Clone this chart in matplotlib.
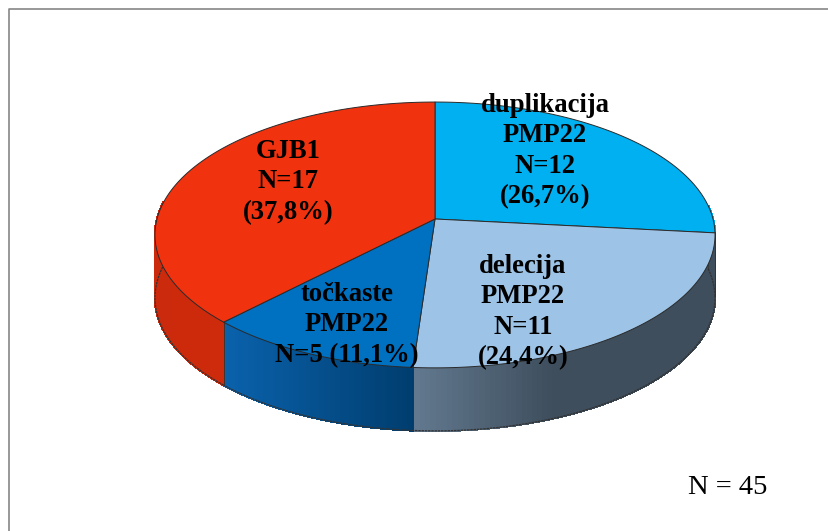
import numpy as np
import matplotlib
matplotlib.use("Agg")
import matplotlib.pyplot as plt
from matplotlib.collections import PolyCollection
from matplotlib.colors import to_rgb

categories = ["duplikacija PMP22", "delecija PMP22", "točkaste PMP22", "GJB1"]
counts = [12, 11, 5, 17]
top_colors = ["#00B0F0", "#9DC3E6", "#0070C0", "#F0320F"]
wall_from = ["#00B0F0", "#62798F", "#0A62AC", "#CC2A0C"]
wall_to = ["#00B0F0", "#3E4E5D", "#003D6E", "#D42C0C"]
labels = ["duplikacija\nPMP22\nN=12\n(26,7%)", "delecija\nPMP22\nN=11\n(24,4%)",
          "točkaste\nPMP22\nN=5 (11,1%)", "GJB1\nN=17\n(37,8%)"]
label_xy = [(545, 151), (523, 312), (347, 325), (288, 182)]
total_note = "N = 45"

CX, CY, A, B, K, DEPTH = 435.0, 219.0, 278.0, 131.0, 0.12, 63.0
plt.rcParams["font.family"] = ["Liberation Serif", "DejaVu Serif"]

def project(theta, r=1.0):
    u, v = r * np.sin(theta), r * np.cos(theta)
    d = 1 + K * v
    return CX + A * u / d, CY - B * v / d

fig = plt.figure(figsize=(8.29, 5.31), dpi=100)
ax = fig.add_axes([0, 0, 1, 1])
ax.set_xlim(0, 829)
ax.set_ylim(531, 0)
ax.axis("off")
ax.plot([9.5, 9.5, 829], [531, 8.5, 8.5], color="#868686", lw=1.2, zorder=1)

fractions = np.array(counts) / sum(counts)
edges = np.concatenate([[0], np.cumsum(fractions)]) * 2 * np.pi

# side walls: only the part of the rim facing the viewer
for i in range(len(counts)):
    th = np.linspace(edges[i], edges[i + 1], 90)
    x, y = project(th)
    strips, cols = [], []
    c0, c1 = np.array(to_rgb(wall_from[i])), np.array(to_rgb(wall_to[i]))
    x0, x1 = x.min(), x.max()
    for j in range(len(th) - 1):
        if np.cos(th[j]) > 0.12:
            continue
        strips.append([(x[j], y[j]), (x[j + 1], y[j + 1]),
                       (x[j + 1], y[j + 1] + DEPTH), (x[j], y[j] + DEPTH)])
        t = (0.5 * (x[j] + x[j + 1]) - x0) / max(x1 - x0, 1)
        if i == 1:
            t = min(t * 2.2, 1.0)
        cols.append(c0 + (c1 - c0) * t)
    if strips:
        ax.add_collection(PolyCollection(strips, facecolors=cols, edgecolors=cols,
                                         linewidths=1.0, antialiased=False, zorder=2))
        lo = [s[0] for s in strips] + [strips[-1][1]]
        hi = [s[3] for s in strips] + [strips[-1][2]]
        ax.plot(*zip(*hi), color="#333333", lw=0.9, ls=(0, (2, 0.6)), zorder=3)
        ax.plot([lo[0][0], hi[0][0]], [lo[0][1], hi[0][1]], color="#333333", lw=0.5, zorder=3)
        ax.plot([lo[-1][0], hi[-1][0]], [lo[-1][1], hi[-1][1]], color="#333333", lw=0.5, zorder=3)

# top face
for i in range(len(counts)):
    th = np.linspace(edges[i], edges[i + 1], 160)
    x, y = project(th)
    ax.fill(np.r_[CX, x], np.r_[CY, y], facecolor=top_colors[i],
            edgecolor="#2a2a2a", lw=0.7, joinstyle="round", zorder=4)

for s, (lx, ly) in zip(labels, label_xy):
    ax.text(lx, ly, s, ha="center", va="center", fontsize=19.2, fontweight="bold",
            color="black", linespacing=1.28, zorder=5)
ax.text(728, 488, total_note, ha="center", va="center", fontsize=20.5, color="black", zorder=5)

fig.savefig("out.png", dpi=100, facecolor="white")
